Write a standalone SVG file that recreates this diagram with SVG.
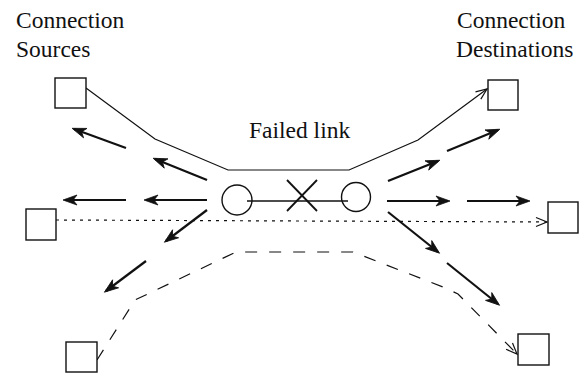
<svg xmlns="http://www.w3.org/2000/svg" width="587" height="373" viewBox="0 0 587 373">
  <style>
    .lbl { font-family: "Liberation Serif", "Times New Roman", serif; font-size: 23.5px; fill: #111; }
    .box { fill: #fff; stroke: #111; stroke-width: 1.4; }
    .node { fill: none; stroke: #111; stroke-width: 1.4; }
    .route { fill: none; stroke: #111; stroke-width: 1.2; }
    .dotted { stroke-dasharray: 3 5; }
    .dashed { stroke-dasharray: 12 12; }
    .push { fill: none; stroke: #111; stroke-width: 2.2; marker-end: url(#bold); }
  </style>
  <defs>
    <marker id="bold" markerUnits="userSpaceOnUse" orient="auto" markerWidth="20" markerHeight="14" viewBox="-14 -7 18 14" refX="0" refY="0" overflow="visible">
      <path d="M2,0 L-12,-5 L-8,0 L-12,5 Z" fill="#111" stroke="#111" stroke-width="0.8" stroke-linejoin="miter"/>
    </marker>
    <marker id="open" markerUnits="userSpaceOnUse" orient="auto" markerWidth="16" markerHeight="12" viewBox="-12 -6 14 12" refX="0" refY="0" overflow="visible">
      <path d="M-11,-4.5 L0,0 L-11,4.5" fill="none" stroke="#111" stroke-width="1.2"/>
    </marker>
  </defs>

  <!-- labels -->
  <text class="lbl" x="16" y="28">Connection</text>
  <text class="lbl" x="16" y="57">Sources</text>
  <text class="lbl" x="457" y="28">Connection</text>
  <text class="lbl" x="456" y="57">Destinations</text>
  <text class="lbl" x="249" y="138">Failed link</text>

  <!-- connection routes and rerouting arrows -->
  <g id="connectors">
    <polyline class="route" points="86,88 155,139 228,170 349,170 418,140 487,89" marker-end="url(#open)"/>
    <polyline class="route dotted" points="56,220 547,222" marker-end="url(#open)"/>
    <polyline class="route dashed" points="97,360 135,300 236,252 353,252 443,287 458,294 517,354" marker-end="url(#open)"/>

    <line x1="247" y1="201" x2="348" y2="201" stroke="#111" stroke-width="1.6"/>

    <!-- traffic pushed back toward the sources -->
    <line class="push" x1="126" y1="148" x2="74" y2="129"/>
    <line class="push" x1="207" y1="180" x2="155" y2="159"/>
    <line class="push" x1="207" y1="200" x2="146" y2="200"/>
    <line class="push" x1="126" y1="200" x2="65" y2="200"/>
    <line class="push" x1="207" y1="210" x2="166" y2="241"/>
    <line class="push" x1="146" y1="261" x2="106" y2="291"/>

    <!-- traffic pushed on toward the destinations -->
    <line class="push" x1="388" y1="181" x2="438" y2="161"/>
    <line class="push" x1="447" y1="151" x2="498" y2="130"/>
    <line class="push" x1="387" y1="201" x2="448" y2="201"/>
    <line class="push" x1="467" y1="201" x2="528" y2="201"/>
    <line class="push" x1="388" y1="212" x2="438" y2="252"/>
    <line class="push" x1="447" y1="263" x2="498" y2="304"/>
  </g>

  <!-- failed link marker -->
  <g id="failure">
    <line x1="287" y1="180" x2="317" y2="211" stroke="#111" stroke-width="1.8"/>
    <line x1="317" y1="180" x2="287" y2="211" stroke="#111" stroke-width="1.8"/>
  </g>

  <!-- routers at each end of the failed link -->
  <g id="router-left"><circle class="node" cx="237" cy="200" r="15"/></g>
  <g id="router-right"><circle class="node" cx="356" cy="197" r="14.5"/></g>

  <!-- sources -->
  <g id="src-top"><rect class="box" x="55" y="78" width="31" height="30"/></g>
  <g id="src-mid"><rect class="box" x="26" y="209" width="30" height="31"/></g>
  <g id="src-bot"><rect class="box" x="66" y="342" width="31" height="30"/></g>

  <!-- destinations -->
  <g id="dst-top"><rect class="box" x="488" y="80" width="30" height="30"/></g>
  <g id="dst-mid"><rect class="box" x="548" y="202" width="30" height="31"/></g>
  <g id="dst-bot"><rect class="box" x="518" y="334" width="31" height="31"/></g>
</svg>
